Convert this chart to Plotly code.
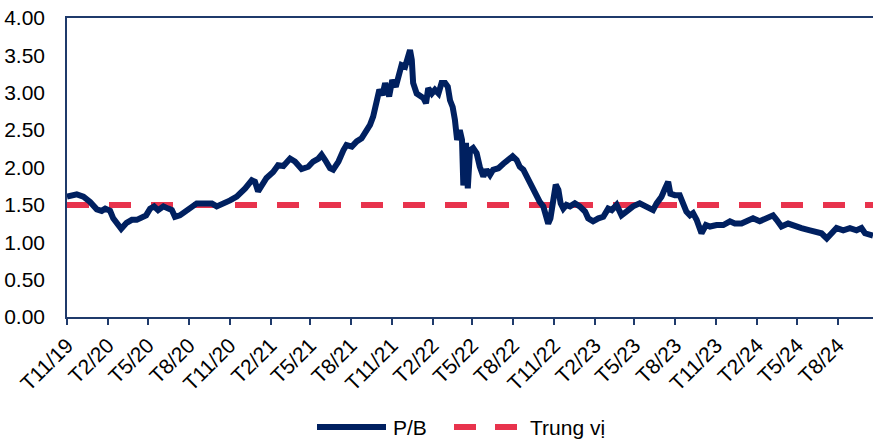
import plotly.graph_objects as go

# P/B history (date, value)
dates = [
    "2019-11-01", "2019-11-23", "2019-12-08", "2019-12-23", "2020-01-07", "2020-01-18",
    "2020-01-26", "2020-02-06", "2020-02-13", "2020-02-21", "2020-03-02", "2020-03-14",
    "2020-03-26", "2020-04-06", "2020-04-17", "2020-04-27", "2020-05-06", "2020-05-15",
    "2020-05-24", "2020-06-05", "2020-06-16", "2020-06-24", "2020-07-01", "2020-07-12",
    "2020-07-24", "2020-08-08", "2020-08-19", "2020-09-03", "2020-09-22", "2020-10-03",
    "2020-10-18", "2020-11-02", "2020-11-17", "2020-11-27", "2020-12-06", "2020-12-21",
    "2020-12-28", "2021-01-04", "2021-01-12", "2021-01-23", "2021-02-07", "2021-02-18",
    "2021-03-02", "2021-03-17", "2021-03-28", "2021-04-12", "2021-04-27", "2021-05-08",
    "2021-05-20", "2021-05-27", "2021-06-04", "2021-06-15", "2021-06-22", "2021-07-04",
    "2021-07-15", "2021-07-22", "2021-08-03", "2021-08-14", "2021-08-25", "2021-09-05",
    "2021-09-13", "2021-09-20", "2021-09-26", "2021-10-04", "2021-10-11", "2021-10-17",
    "2021-10-26", "2021-11-02", "2021-11-10", "2021-11-17", "2021-11-23", "2021-12-01",
    "2021-12-06", "2021-12-12", "2021-12-16", "2021-12-19", "2021-12-27", "2022-01-03",
    "2022-01-11", "2022-01-17", "2022-01-22", "2022-01-30", "2022-02-06", "2022-02-14",
    "2022-02-21", "2022-03-01", "2022-03-07", "2022-03-12", "2022-03-18", "2022-03-23",
    "2022-03-28", "2022-04-03", "2022-04-08", "2022-04-11", "2022-04-17", "2022-04-21",
    "2022-04-26", "2022-05-03", "2022-05-11", "2022-05-18", "2022-05-26", "2022-06-02",
    "2022-06-10", "2022-06-17", "2022-06-29", "2022-07-10", "2022-07-21", "2022-07-31",
    "2022-08-09", "2022-08-16", "2022-08-24", "2022-08-31", "2022-09-08", "2022-09-15",
    "2022-09-23", "2022-09-30", "2022-10-08", "2022-10-14", "2022-10-19", "2022-10-24",
    "2022-10-30", "2022-11-05", "2022-11-11", "2022-11-16", "2022-11-22", "2022-11-29",
    "2022-12-07", "2022-12-18", "2022-12-29", "2023-01-10", "2023-01-17", "2023-01-28",
    "2023-02-09", "2023-02-20", "2023-03-03", "2023-03-11", "2023-03-22", "2023-04-02",
    "2023-04-13", "2023-04-28", "2023-05-13", "2023-05-25", "2023-06-05", "2023-06-12",
    "2023-06-20", "2023-07-01", "2023-07-09", "2023-07-16", "2023-07-21", "2023-07-31",
    "2023-08-11", "2023-08-19", "2023-08-26", "2023-09-03", "2023-09-10", "2023-09-18",
    "2023-09-29", "2023-10-09", "2023-10-18", "2023-11-02", "2023-11-17", "2023-12-02",
    "2023-12-13", "2023-12-28", "2024-01-09", "2024-01-23", "2024-02-07", "2024-02-23",
    "2024-03-08", "2024-03-16", "2024-03-27", "2024-04-11", "2024-04-26", "2024-05-11",
    "2024-05-30", "2024-06-14", "2024-06-25", "2024-07-07", "2024-07-18", "2024-07-29",
    "2024-08-13", "2024-08-28", "2024-09-12", "2024-09-23", "2024-10-01", "2024-10-12",
    "2024-10-19",
]
pb_values = [
    1.61, 1.64, 1.61, 1.54, 1.44, 1.42,
    1.45, 1.42, 1.32, 1.25, 1.18, 1.26,
    1.30, 1.30, 1.34, 1.36, 1.45, 1.48,
    1.43, 1.48, 1.45, 1.43, 1.34, 1.36,
    1.41, 1.47, 1.52, 1.52, 1.52, 1.48,
    1.51, 1.56, 1.61, 1.66, 1.72, 1.83,
    1.81, 1.68, 1.77, 1.86, 1.94, 2.03,
    2.02, 2.12, 2.08, 1.98, 2.01, 2.08,
    2.12, 2.17, 2.10, 1.99, 1.97, 2.08,
    2.23, 2.30, 2.28, 2.35, 2.39, 2.48,
    2.57, 2.68, 2.86, 3.04, 2.97, 3.13,
    2.95, 3.17, 3.08, 3.26, 3.37, 3.35,
    3.46, 3.57, 3.44, 3.13, 2.99, 2.95,
    2.93, 2.86, 3.06, 2.99, 3.04, 2.99,
    3.13, 3.13, 3.08, 2.90, 2.81, 2.64,
    2.37, 2.50, 2.37, 1.76, 2.33, 1.72,
    2.23, 2.26, 2.19, 2.01, 1.88, 1.97,
    1.90, 1.97, 1.99, 2.05, 2.10, 2.15,
    2.10, 2.01, 1.97, 1.88, 1.79, 1.70,
    1.63, 1.54, 1.48, 1.36, 1.25, 1.32,
    1.59, 1.77, 1.70, 1.52, 1.45, 1.50,
    1.48, 1.52, 1.48, 1.41, 1.32, 1.28,
    1.32, 1.34, 1.45, 1.43, 1.50, 1.36,
    1.41, 1.48, 1.52, 1.49, 1.45, 1.43,
    1.52, 1.61, 1.72, 1.81, 1.65, 1.63,
    1.63, 1.52, 1.41, 1.36, 1.39, 1.30,
    1.12, 1.23, 1.21, 1.23, 1.23, 1.28,
    1.25, 1.25, 1.28, 1.32, 1.28, 1.32,
    1.36, 1.30, 1.21, 1.25, 1.23, 1.19,
    1.16, 1.14, 1.12, 1.05, 1.12, 1.19,
    1.16, 1.19, 1.16, 1.19, 1.12, 1.10,
    1.09,
]

median_pb = 1.50

tick_dates = [
    "2019-11-01", "2020-02-01", "2020-05-01", "2020-08-01", "2020-11-01",
    "2021-02-01", "2021-05-01", "2021-08-01", "2021-11-01", "2022-02-01",
    "2022-05-01", "2022-08-01", "2022-11-01", "2023-02-01", "2023-05-01",
    "2023-08-01", "2023-11-01", "2024-02-01", "2024-05-01", "2024-08-01",
]
tick_labels = [
    "T11/19", "T2/20", "T5/20", "T8/20", "T11/20",
    "T2/21", "T5/21", "T8/21", "T11/21", "T2/22",
    "T5/22", "T8/22", "T11/22", "T2/23", "T5/23",
    "T8/23", "T11/23", "T2/24", "T5/24", "T8/24",
]

NAVY = "#002060"
RED = "#E8334D"
AXIS = "#1F3A6B"
FONT = "Liberation Sans, Arial, sans-serif"
FS = 21

W, H = 873, 441
M_L, M_R, M_T, M_B = 67, 0, 18, 124
plot_h = H - M_T - M_B
plot_w = W - M_L - M_R


def px_x(x):
    return (x - M_L) / plot_w


def px_y(y):
    return (H - M_B - y) / plot_h


fig = go.Figure()

fig.add_trace(go.Scatter(
    x=[dates[0], dates[-1]], y=[median_pb, median_pb],
    mode="lines", name="Trung vị",
    line=dict(color=RED, width=6, dash="22px,20px"),
    showlegend=False, hoverinfo="skip",
))
fig.add_trace(go.Scatter(
    x=dates, y=pb_values, mode="lines", name="P/B",
    line=dict(color=NAVY, width=6, shape="linear"),
    showlegend=False,
))

# Legend drawn below the axis
legend_y = 427
fig.add_shape(type="line", xref="paper", yref="paper",
              x0=px_x(317), x1=px_x(386), y0=px_y(legend_y), y1=px_y(legend_y),
              line=dict(color=NAVY, width=6))
fig.add_annotation(xref="paper", yref="paper", x=px_x(391), y=px_y(legend_y),
                   text="P/B", showarrow=False, xanchor="left", yanchor="middle",
                   font=dict(family=FONT, size=FS, color="#000000"))
fig.add_shape(type="line", xref="paper", yref="paper",
              x0=px_x(454), x1=px_x(517), y0=px_y(legend_y), y1=px_y(legend_y),
              line=dict(color=RED, width=6, dash="22px,19px"))
fig.add_annotation(xref="paper", yref="paper", x=px_x(528), y=px_y(legend_y),
                   text="Trung vị", showarrow=False, xanchor="left", yanchor="middle",
                   font=dict(family=FONT, size=FS, color="#000000"))

fig.update_layout(
    width=W, height=H,
    margin=dict(l=M_L, r=M_R, t=M_T, b=M_B, pad=0),
    paper_bgcolor="white", plot_bgcolor="white",
    font=dict(family=FONT, size=FS, color="#000000"),
    showlegend=False,
)
fig.update_xaxes(
    type="date", range=[dates[0], dates[-1]],
    tickmode="array", tickvals=tick_dates, ticktext=tick_labels,
    tickangle=-45, ticks="outside", ticklen=6, tickwidth=1.5, tickcolor=AXIS,
    showline=True, linecolor=AXIS, linewidth=1.5, mirror=True,
    showgrid=False, zeroline=False,
    tickfont=dict(family=FONT, size=FS, color="#000000"),
)
fig.update_yaxes(
    range=[0, 4], dtick=0.5, tick0=0, tickformat=".2f",
    showline=True, linecolor=AXIS, linewidth=1.5,
    showgrid=False, zeroline=False, ticks="",
    ticklabelstandoff=16,
    tickfont=dict(family=FONT, size=FS, color="#000000"),
)

fig.write_html("out.html")
